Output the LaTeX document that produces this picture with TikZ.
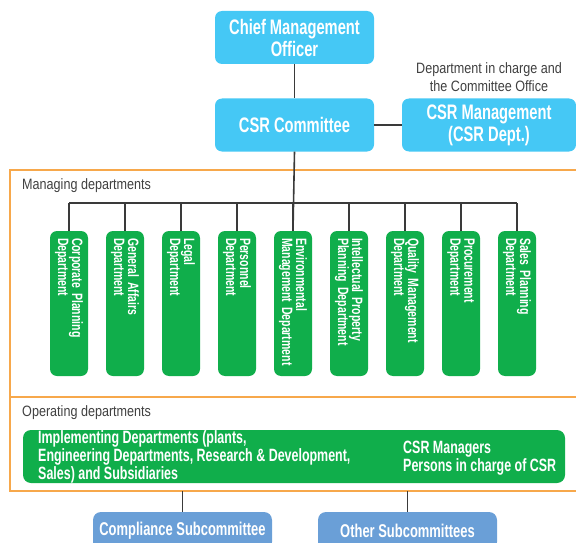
\documentclass[tikz,border=0pt]{standalone}
\usepackage{fontspec}
\setmainfont{Liberation Sans}
\newfontfamily\condfont[FakeStretch=0.7]{Liberation Sans}
\newfontfamily\labelfont[FakeStretch=0.84]{Liberation Sans}
\definecolor{skyblue}{HTML}{45C8F5}
\definecolor{deptgreen}{HTML}{10AE4B}
\definecolor{frameorange}{HTML}{F7A84B}
\definecolor{subblue}{HTML}{6A9FD7}
\definecolor{linegray}{HTML}{3A3A3A}
\definecolor{labelgray}{HTML}{404040}

\begin{document}
\begin{tikzpicture}[x=1pt,y=-1pt,
	topbox/.style={rounded corners=7pt, fill=skyblue, text=white, align=center, inner sep=0pt,
		font=\condfont\bfseries\fontsize{21}{22}\selectfont},
	deptbox/.style={rounded corners=7pt, fill=deptgreen, text=white, rotate=-90, inner sep=0pt,
		minimum width=145pt, minimum height=38pt, text width=131pt, align=left,
		font=\condfont\bfseries\fontsize{15}{14}\selectfont},
	subbox/.style={rounded corners=8pt, fill=subblue, text=white, inner sep=0pt,
		minimum width=179pt, minimum height=38pt, font=\condfont\bfseries\fontsize{18.5}{20}\selectfont},
	grouplabel/.style={text=labelgray, anchor=west, inner sep=0pt, align=center,
		font=\labelfont\fontsize{15}{17.5}\selectfont},
	impllabel/.style={anchor=west, text=white, align=left, inner sep=0pt,
		font=\condfont\bfseries\fontsize{17.8}{16}\selectfont},
	link/.style={linegray, line width=1.6pt},
	frameline/.style={frameorange, line width=2.6pt}]

	\useasboundingbox (0,0) rectangle (576,543);

	% orange frame round the managing and operating departments
	\draw[frameline] (576,170) -- (10,170) -- (10,491) -- (576,491);
	\draw[frameline] (10,397) -- (576,397);
	\coordinate (framebot) at (0,491);
	\coordinate (bus) at (0,203);

	\node[topbox, minimum width=159pt, minimum height=53pt] (cmo) at (294.5,37.5) {Chief Management\\Officer};
	\node[topbox, minimum width=159pt, minimum height=53pt] (csr) at (294.5,125) {CSR Committee};
	\node[topbox, minimum width=174pt, minimum height=53pt] (csrmgmt) at (489,125) {CSR Management\\(CSR Dept.)};
	\node[grouplabel, anchor=center] (office) at (489,77) {Department in charge and\\the Committee Office};

	\node[grouplabel] (managing) at (22,186) {Managing departments};
	\node[grouplabel] (operating) at (22,413) {Operating departments};

	\foreach \i/\D in {1/Corporate Planning\\Department,2/General Affairs\\Department,3/Legal\\Department,
		4/Personnel\\Department,5/Environmental\\Management Department,6/Intellectual Property\\Planning Department,
		7/Quality Management\\Department,8/Procurement\\Department,9/Sales Planning\\Department}
	{
		\node[deptbox] (dept\i) at (13+56*\i,303.5) {\D};
		\draw[link] (dept\i.west) -- (dept\i.west |- bus);
	}

	\node[rounded corners=8pt, fill=deptgreen, minimum width=542pt, minimum height=53pt, inner sep=0pt] (impl) at (294,456.5) {};
	\node[impllabel] (impltext) at (38,457) {Implementing Departments (plants,\\Engineering Departments, Research \& Development,\\Sales) and Subsidiaries};
	\node[impllabel] (managers) at (403,458) {CSR Managers\\Persons in charge of CSR};

	\node[subbox] (compliance) at (182.5,531) {Compliance Subcommittee};
	\node[subbox] (othersub) at (407.5,531) {Other Subcommittees};

	\draw[link] (cmo) -- (csr);
	\draw[link] (csr) -- (csrmgmt);
	\draw[link] (csr.south) -- (dept5.west);
	\draw[link] (dept1.west |- bus) -- (dept9.west |- bus);
	\draw[link] (compliance.north) -- (compliance.north |- framebot);
	\draw[link] (othersub.north) -- (othersub.north |- framebot);

\end{tikzpicture}
\end{document}
